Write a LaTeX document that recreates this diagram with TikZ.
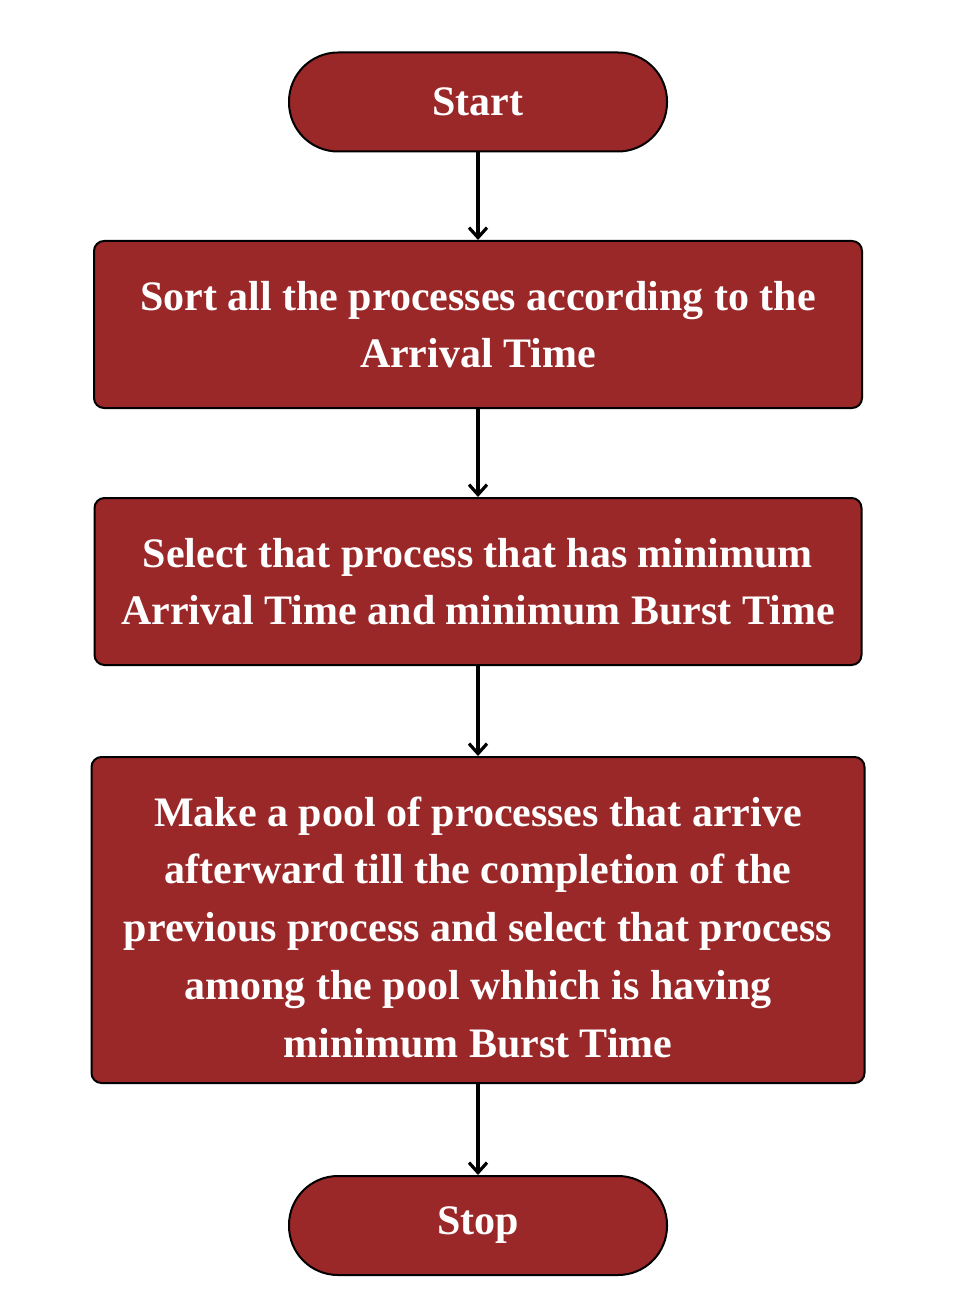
\documentclass[tikz,border=0pt]{standalone}
\usepackage{fontspec}
\setmainfont{Liberation Serif}
\usepackage{tikz}
\usetikzlibrary{arrows.meta}
\definecolor{boxred}{RGB}{154,40,41}

\begin{document}
\begin{tikzpicture}[x=0.5pt,y=-0.5pt,
		term/.style={draw=black,line width=1pt,fill=boxred,text=white,rounded corners=24.5pt,minimum width=189pt,minimum height=49.5pt,font=\bfseries\fontsize{21}{28.5}\selectfont},
		proc/.style={draw=black,line width=1pt,fill=boxred,text=white,rounded corners=5pt,align=center,font=\bfseries\fontsize{21}{28.5}\selectfont},
		flow/.style={line width=1.6pt,-{Straight Barb[length=5pt,width=9pt,line width=1.6pt]}}]
				\useasboundingbox (0,0) rectangle (967,1299);
				\node (start) at (478,102) [term] {Start};
				\node (sort) at (478,324.5) [proc,minimum width=384pt,minimum height=83.5pt] {Sort all the processes according to the\\Arrival Time};
				\node (select) at (478,581.5) [proc,minimum width=383.5pt,minimum height=83.5pt] {Select that process that has minimum\\Arrival Time and minimum Burst Time};
				\node (pool) at (478,920) [proc,minimum width=386.5pt,minimum height=163pt,font=\bfseries\fontsize{21}{28.9}\selectfont] {\rule{0pt}{22pt}Make a pool of processes that arrive\\afterward till the completion of the\\previous process and select that process\\among the pool whhich is having\\minimum Burst Time};
				\node (stop) at (478,1225.5) [term] {Stop};
				
				\draw[flow] (start) -- (sort);
				\draw[flow] (sort) -- (select);
				\draw[flow] (select) -- (pool);
				\draw[flow] (pool) -- (stop);
			\end{tikzpicture}
\end{document}
